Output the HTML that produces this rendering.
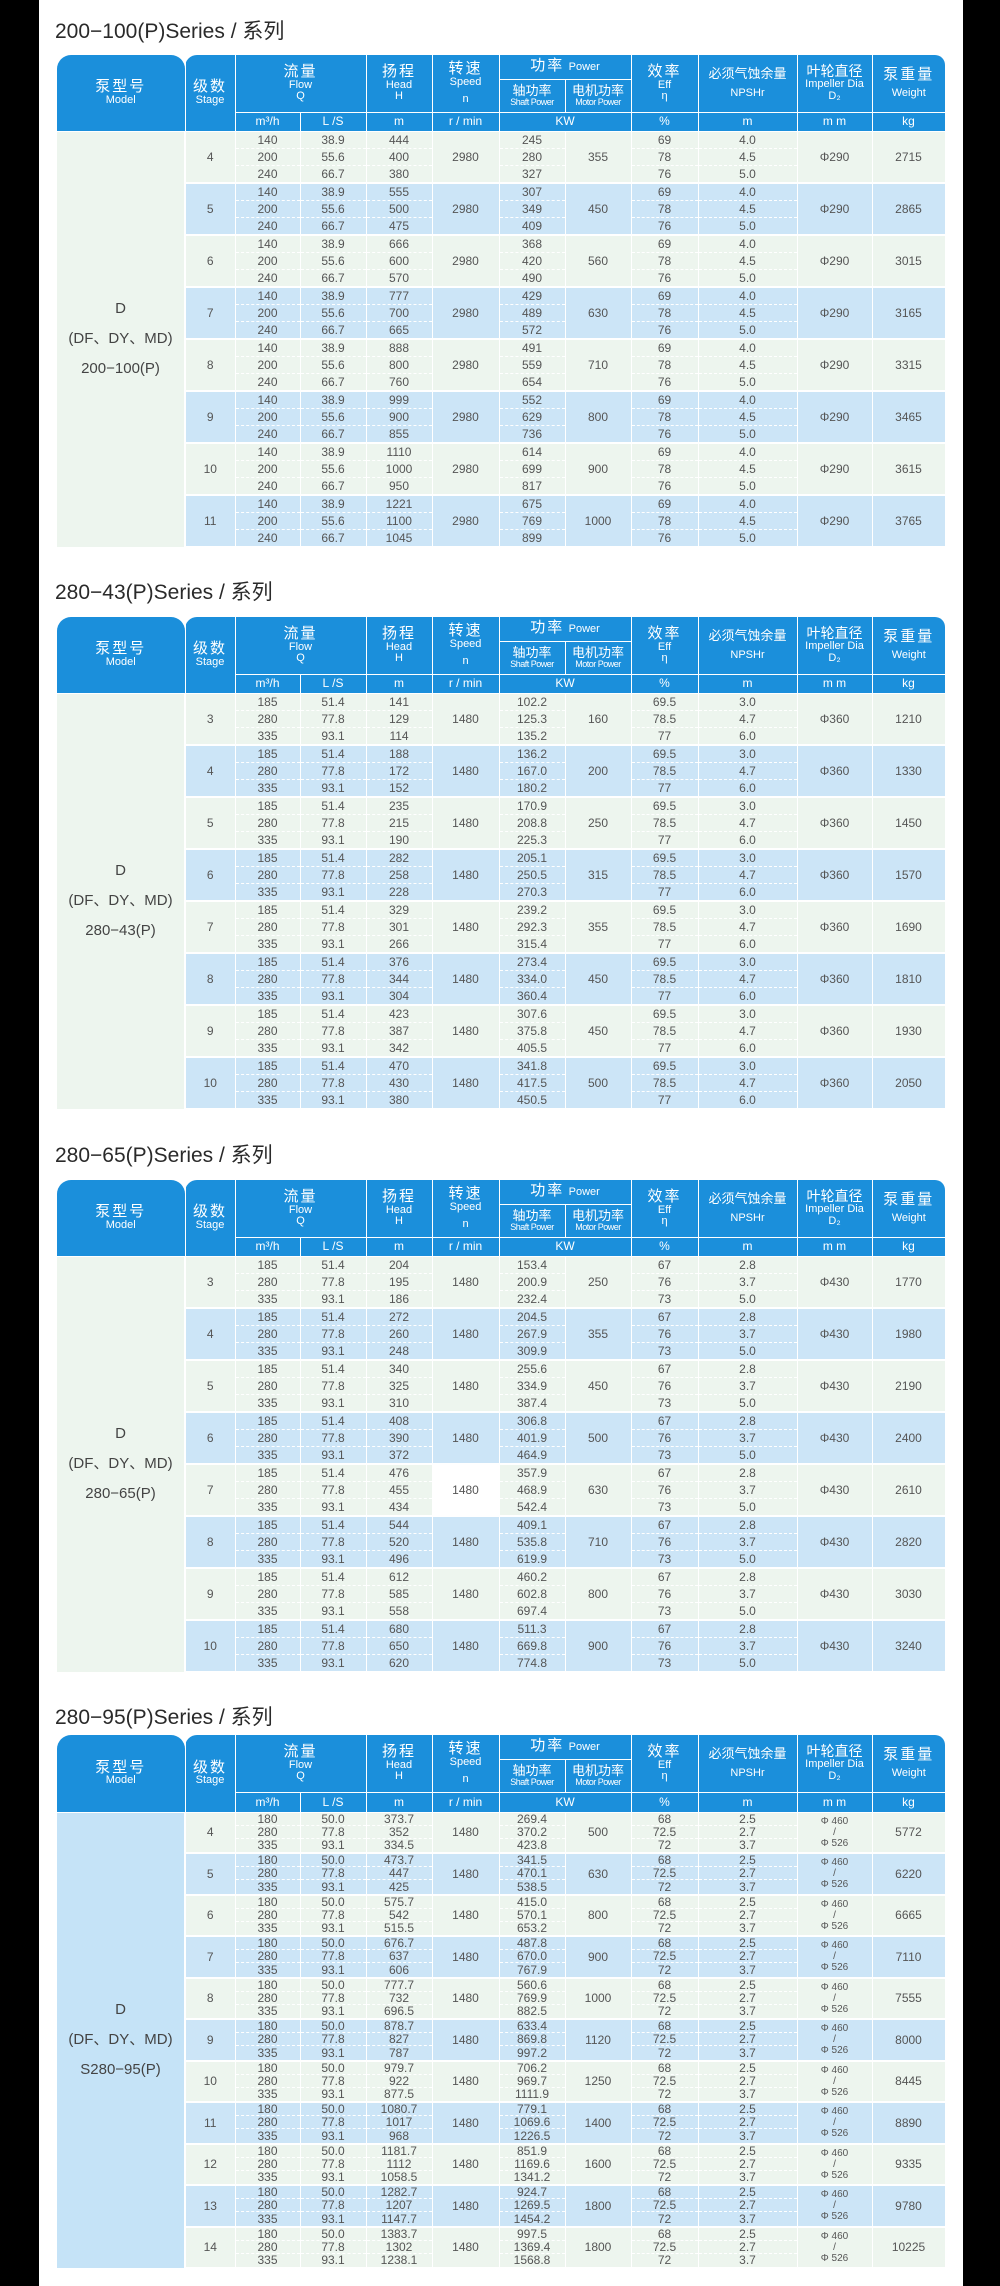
<!DOCTYPE html>
<html><head><meta charset="utf-8"><style>
*{margin:0;padding:0;box-sizing:border-box}
body{width:1000px;height:2286px;background:#000;position:relative;overflow:hidden;font-family:"Liberation Sans","Noto Sans CJK SC",sans-serif}
.bg{position:absolute;left:39px;top:0;width:924px;height:2286px;background:#fff}
.ti{position:absolute;left:55px;font-size:21px;color:#2a2a2a;line-height:24px;white-space:nowrap}
table{position:absolute;left:57px;width:888px;border-collapse:collapse;table-layout:fixed;color:#555;text-align:center}
th{background:#1b8fdb;color:#fff;font-weight:normal;border:1px solid #fff;line-height:1.05;padding:0;vertical-align:middle}
th .c{font-size:15px;letter-spacing:2px}
th .e{font-size:11px}
th.e{font-size:12px}
th .s{font-size:9px;letter-spacing:-0.5px}
th.tl{border-top-left-radius:14px;border-top-right-radius:14px;border-left:none;border-top:none}
th.tl2{border-top-left-radius:12px;border-top:none}
th.tr{border-top-right-radius:10px;border-right:none;border-top:none}
th.top{border-top:none}
td{font-size:12px;padding:0;border-right:1px solid #fff;border-bottom:1px dashed #fff;line-height:14px;vertical-align:middle}
td.r{border-bottom:2px solid #fff}
tr.z td{border-bottom:2px solid #fff}
td.m,.t4 td.m{background:#c5e3f7;font-size:15px;color:#444;line-height:30px;border-right:2px solid #fff;border-bottom:none}
.g td{background:#edf5ee}.b td{background:#cce5f7}
tbody tr{height:17px}tbody tr.z{height:18px}
.t4 td{font-size:12px;line-height:12px}
.t4 tbody tr{height:13px}.t4 tbody tr.z{height:15px}
.t4 td.ip{font-size:10px;line-height:11px}
td.w{background:#fff!important}
</style></head><body><div class="bg"></div>

<div class="ti" style="top:20px">200−100(P)Series / 系列</div>
<table style="top:55px">
<colgroup><col style="width:128px"><col style="width:50px"><col style="width:65px"><col style="width:66px"><col style="width:66px"><col style="width:67px"><col style="width:66px"><col style="width:66px"><col style="width:67px"><col style="width:99px"><col style="width:75px"><col style="width:73px"></colgroup>
<thead>
<tr style="height:24px"><th rowspan="3" class="tl"><div class="c">泵型号</div><div class="e">Model</div></th><th rowspan="3" class="tl2"><div class="c">级数</div><div class="e">Stage</div></th><th colspan="2" rowspan="2" class="top"><div class="c">流量</div><div class="e">Flow</div><div class="e">Q</div></th><th rowspan="2" class="top"><div class="c">扬程</div><div class="e">Head</div><div class="e">H</div></th><th rowspan="2" class="top"><div class="c">转速</div><div class="e">Speed</div><div class="e" style="margin-top:6px">n</div></th><th colspan="2" class="top"><span class="c">功率</span> <span class="e">Power</span></th><th rowspan="2" class="top"><div class="c">效率</div><div class="e">Eff</div><div class="e">η</div></th><th rowspan="2" class="top"><div class="c" style="letter-spacing:0;font-size:13px">必须气蚀余量</div><div class="e" style="margin-top:8px">NPSHr</div></th><th rowspan="2" class="top"><div class="c" style="letter-spacing:0;font-size:14px">叶轮直径</div><div class="e">Impeller Dia</div><div class="e">D₂</div></th><th rowspan="2" class="tr"><div class="c">泵重量</div><div class="e" style="margin-top:6px">Weight</div></th></tr>
<tr style="height:33px"><th><div style="font-size:13px">轴功率</div><div class="s">Shaft Power</div></th><th><div style="font-size:13px">电机功率</div><div class="s">Motor Power</div></th></tr>
<tr style="height:19px"><th class="e">m³/h</th><th class="e">L /S</th><th class="e">m</th><th class="e">r / min</th><th colspan="2" class="e">KW</th><th class="e">%</th><th class="e">m</th><th class="e">m m</th><th class="e">kg</th></tr>
</thead><tbody>
<tr class="g"><td rowspan="24" class="m">D<br>(DF、DY、MD)<br>200−100(P)</td><td rowspan="3" class="r">4</td><td>140</td><td>38.9</td><td>444</td><td rowspan="3" class="r">2980</td><td>245</td><td rowspan="3" class="r">355</td><td>69</td><td>4.0</td><td rowspan="3" class="r">Φ290</td><td rowspan="3" class="r">2715</td></tr>
<tr class="g"><td>200</td><td>55.6</td><td>400</td><td>280</td><td>78</td><td>4.5</td></tr>
<tr class="g z"><td>240</td><td>66.7</td><td>380</td><td>327</td><td>76</td><td>5.0</td></tr>
<tr class="b"><td rowspan="3" class="r">5</td><td>140</td><td>38.9</td><td>555</td><td rowspan="3" class="r">2980</td><td>307</td><td rowspan="3" class="r">450</td><td>69</td><td>4.0</td><td rowspan="3" class="r">Φ290</td><td rowspan="3" class="r">2865</td></tr>
<tr class="b"><td>200</td><td>55.6</td><td>500</td><td>349</td><td>78</td><td>4.5</td></tr>
<tr class="b z"><td>240</td><td>66.7</td><td>475</td><td>409</td><td>76</td><td>5.0</td></tr>
<tr class="g"><td rowspan="3" class="r">6</td><td>140</td><td>38.9</td><td>666</td><td rowspan="3" class="r">2980</td><td>368</td><td rowspan="3" class="r">560</td><td>69</td><td>4.0</td><td rowspan="3" class="r">Φ290</td><td rowspan="3" class="r">3015</td></tr>
<tr class="g"><td>200</td><td>55.6</td><td>600</td><td>420</td><td>78</td><td>4.5</td></tr>
<tr class="g z"><td>240</td><td>66.7</td><td>570</td><td>490</td><td>76</td><td>5.0</td></tr>
<tr class="b"><td rowspan="3" class="r">7</td><td>140</td><td>38.9</td><td>777</td><td rowspan="3" class="r">2980</td><td>429</td><td rowspan="3" class="r">630</td><td>69</td><td>4.0</td><td rowspan="3" class="r">Φ290</td><td rowspan="3" class="r">3165</td></tr>
<tr class="b"><td>200</td><td>55.6</td><td>700</td><td>489</td><td>78</td><td>4.5</td></tr>
<tr class="b z"><td>240</td><td>66.7</td><td>665</td><td>572</td><td>76</td><td>5.0</td></tr>
<tr class="g"><td rowspan="3" class="r">8</td><td>140</td><td>38.9</td><td>888</td><td rowspan="3" class="r">2980</td><td>491</td><td rowspan="3" class="r">710</td><td>69</td><td>4.0</td><td rowspan="3" class="r">Φ290</td><td rowspan="3" class="r">3315</td></tr>
<tr class="g"><td>200</td><td>55.6</td><td>800</td><td>559</td><td>78</td><td>4.5</td></tr>
<tr class="g z"><td>240</td><td>66.7</td><td>760</td><td>654</td><td>76</td><td>5.0</td></tr>
<tr class="b"><td rowspan="3" class="r">9</td><td>140</td><td>38.9</td><td>999</td><td rowspan="3" class="r">2980</td><td>552</td><td rowspan="3" class="r">800</td><td>69</td><td>4.0</td><td rowspan="3" class="r">Φ290</td><td rowspan="3" class="r">3465</td></tr>
<tr class="b"><td>200</td><td>55.6</td><td>900</td><td>629</td><td>78</td><td>4.5</td></tr>
<tr class="b z"><td>240</td><td>66.7</td><td>855</td><td>736</td><td>76</td><td>5.0</td></tr>
<tr class="g"><td rowspan="3" class="r">10</td><td>140</td><td>38.9</td><td>1110</td><td rowspan="3" class="r">2980</td><td>614</td><td rowspan="3" class="r">900</td><td>69</td><td>4.0</td><td rowspan="3" class="r">Φ290</td><td rowspan="3" class="r">3615</td></tr>
<tr class="g"><td>200</td><td>55.6</td><td>1000</td><td>699</td><td>78</td><td>4.5</td></tr>
<tr class="g z"><td>240</td><td>66.7</td><td>950</td><td>817</td><td>76</td><td>5.0</td></tr>
<tr class="b"><td rowspan="3" class="r">11</td><td>140</td><td>38.9</td><td>1221</td><td rowspan="3" class="r">2980</td><td>675</td><td rowspan="3" class="r">1000</td><td>69</td><td>4.0</td><td rowspan="3" class="r">Φ290</td><td rowspan="3" class="r">3765</td></tr>
<tr class="b"><td>200</td><td>55.6</td><td>1100</td><td>769</td><td>78</td><td>4.5</td></tr>
<tr class="b z"><td>240</td><td>66.7</td><td>1045</td><td>899</td><td>76</td><td>5.0</td></tr>
</tbody></table>

<div class="ti" style="top:581px">280−43(P)Series / 系列</div>
<table style="top:617px">
<colgroup><col style="width:128px"><col style="width:50px"><col style="width:65px"><col style="width:66px"><col style="width:66px"><col style="width:67px"><col style="width:66px"><col style="width:66px"><col style="width:67px"><col style="width:99px"><col style="width:75px"><col style="width:73px"></colgroup>
<thead>
<tr style="height:24px"><th rowspan="3" class="tl"><div class="c">泵型号</div><div class="e">Model</div></th><th rowspan="3" class="tl2"><div class="c">级数</div><div class="e">Stage</div></th><th colspan="2" rowspan="2" class="top"><div class="c">流量</div><div class="e">Flow</div><div class="e">Q</div></th><th rowspan="2" class="top"><div class="c">扬程</div><div class="e">Head</div><div class="e">H</div></th><th rowspan="2" class="top"><div class="c">转速</div><div class="e">Speed</div><div class="e" style="margin-top:6px">n</div></th><th colspan="2" class="top"><span class="c">功率</span> <span class="e">Power</span></th><th rowspan="2" class="top"><div class="c">效率</div><div class="e">Eff</div><div class="e">η</div></th><th rowspan="2" class="top"><div class="c" style="letter-spacing:0;font-size:13px">必须气蚀余量</div><div class="e" style="margin-top:8px">NPSHr</div></th><th rowspan="2" class="top"><div class="c" style="letter-spacing:0;font-size:14px">叶轮直径</div><div class="e">Impeller Dia</div><div class="e">D₂</div></th><th rowspan="2" class="tr"><div class="c">泵重量</div><div class="e" style="margin-top:6px">Weight</div></th></tr>
<tr style="height:33px"><th><div style="font-size:13px">轴功率</div><div class="s">Shaft Power</div></th><th><div style="font-size:13px">电机功率</div><div class="s">Motor Power</div></th></tr>
<tr style="height:19px"><th class="e">m³/h</th><th class="e">L /S</th><th class="e">m</th><th class="e">r / min</th><th colspan="2" class="e">KW</th><th class="e">%</th><th class="e">m</th><th class="e">m m</th><th class="e">kg</th></tr>
</thead><tbody>
<tr class="g"><td rowspan="24" class="m">D<br>(DF、DY、MD)<br>280−43(P)</td><td rowspan="3" class="r">3</td><td>185</td><td>51.4</td><td>141</td><td rowspan="3" class="r">1480</td><td>102.2</td><td rowspan="3" class="r">160</td><td>69.5</td><td>3.0</td><td rowspan="3" class="r">Φ360</td><td rowspan="3" class="r">1210</td></tr>
<tr class="g"><td>280</td><td>77.8</td><td>129</td><td>125.3</td><td>78.5</td><td>4.7</td></tr>
<tr class="g z"><td>335</td><td>93.1</td><td>114</td><td>135.2</td><td>77</td><td>6.0</td></tr>
<tr class="b"><td rowspan="3" class="r">4</td><td>185</td><td>51.4</td><td>188</td><td rowspan="3" class="r">1480</td><td>136.2</td><td rowspan="3" class="r">200</td><td>69.5</td><td>3.0</td><td rowspan="3" class="r">Φ360</td><td rowspan="3" class="r">1330</td></tr>
<tr class="b"><td>280</td><td>77.8</td><td>172</td><td>167.0</td><td>78.5</td><td>4.7</td></tr>
<tr class="b z"><td>335</td><td>93.1</td><td>152</td><td>180.2</td><td>77</td><td>6.0</td></tr>
<tr class="g"><td rowspan="3" class="r">5</td><td>185</td><td>51.4</td><td>235</td><td rowspan="3" class="r">1480</td><td>170.9</td><td rowspan="3" class="r">250</td><td>69.5</td><td>3.0</td><td rowspan="3" class="r">Φ360</td><td rowspan="3" class="r">1450</td></tr>
<tr class="g"><td>280</td><td>77.8</td><td>215</td><td>208.8</td><td>78.5</td><td>4.7</td></tr>
<tr class="g z"><td>335</td><td>93.1</td><td>190</td><td>225.3</td><td>77</td><td>6.0</td></tr>
<tr class="b"><td rowspan="3" class="r">6</td><td>185</td><td>51.4</td><td>282</td><td rowspan="3" class="r">1480</td><td>205.1</td><td rowspan="3" class="r">315</td><td>69.5</td><td>3.0</td><td rowspan="3" class="r">Φ360</td><td rowspan="3" class="r">1570</td></tr>
<tr class="b"><td>280</td><td>77.8</td><td>258</td><td>250.5</td><td>78.5</td><td>4.7</td></tr>
<tr class="b z"><td>335</td><td>93.1</td><td>228</td><td>270.3</td><td>77</td><td>6.0</td></tr>
<tr class="g"><td rowspan="3" class="r">7</td><td>185</td><td>51.4</td><td>329</td><td rowspan="3" class="r">1480</td><td>239.2</td><td rowspan="3" class="r">355</td><td>69.5</td><td>3.0</td><td rowspan="3" class="r">Φ360</td><td rowspan="3" class="r">1690</td></tr>
<tr class="g"><td>280</td><td>77.8</td><td>301</td><td>292.3</td><td>78.5</td><td>4.7</td></tr>
<tr class="g z"><td>335</td><td>93.1</td><td>266</td><td>315.4</td><td>77</td><td>6.0</td></tr>
<tr class="b"><td rowspan="3" class="r">8</td><td>185</td><td>51.4</td><td>376</td><td rowspan="3" class="r">1480</td><td>273.4</td><td rowspan="3" class="r">450</td><td>69.5</td><td>3.0</td><td rowspan="3" class="r">Φ360</td><td rowspan="3" class="r">1810</td></tr>
<tr class="b"><td>280</td><td>77.8</td><td>344</td><td>334.0</td><td>78.5</td><td>4.7</td></tr>
<tr class="b z"><td>335</td><td>93.1</td><td>304</td><td>360.4</td><td>77</td><td>6.0</td></tr>
<tr class="g"><td rowspan="3" class="r">9</td><td>185</td><td>51.4</td><td>423</td><td rowspan="3" class="r">1480</td><td>307.6</td><td rowspan="3" class="r">450</td><td>69.5</td><td>3.0</td><td rowspan="3" class="r">Φ360</td><td rowspan="3" class="r">1930</td></tr>
<tr class="g"><td>280</td><td>77.8</td><td>387</td><td>375.8</td><td>78.5</td><td>4.7</td></tr>
<tr class="g z"><td>335</td><td>93.1</td><td>342</td><td>405.5</td><td>77</td><td>6.0</td></tr>
<tr class="b"><td rowspan="3" class="r">10</td><td>185</td><td>51.4</td><td>470</td><td rowspan="3" class="r">1480</td><td>341.8</td><td rowspan="3" class="r">500</td><td>69.5</td><td>3.0</td><td rowspan="3" class="r">Φ360</td><td rowspan="3" class="r">2050</td></tr>
<tr class="b"><td>280</td><td>77.8</td><td>430</td><td>417.5</td><td>78.5</td><td>4.7</td></tr>
<tr class="b z"><td>335</td><td>93.1</td><td>380</td><td>450.5</td><td>77</td><td>6.0</td></tr>
</tbody></table>

<div class="ti" style="top:1144px">280−65(P)Series / 系列</div>
<table style="top:1180px">
<colgroup><col style="width:128px"><col style="width:50px"><col style="width:65px"><col style="width:66px"><col style="width:66px"><col style="width:67px"><col style="width:66px"><col style="width:66px"><col style="width:67px"><col style="width:99px"><col style="width:75px"><col style="width:73px"></colgroup>
<thead>
<tr style="height:24px"><th rowspan="3" class="tl"><div class="c">泵型号</div><div class="e">Model</div></th><th rowspan="3" class="tl2"><div class="c">级数</div><div class="e">Stage</div></th><th colspan="2" rowspan="2" class="top"><div class="c">流量</div><div class="e">Flow</div><div class="e">Q</div></th><th rowspan="2" class="top"><div class="c">扬程</div><div class="e">Head</div><div class="e">H</div></th><th rowspan="2" class="top"><div class="c">转速</div><div class="e">Speed</div><div class="e" style="margin-top:6px">n</div></th><th colspan="2" class="top"><span class="c">功率</span> <span class="e">Power</span></th><th rowspan="2" class="top"><div class="c">效率</div><div class="e">Eff</div><div class="e">η</div></th><th rowspan="2" class="top"><div class="c" style="letter-spacing:0;font-size:13px">必须气蚀余量</div><div class="e" style="margin-top:8px">NPSHr</div></th><th rowspan="2" class="top"><div class="c" style="letter-spacing:0;font-size:14px">叶轮直径</div><div class="e">Impeller Dia</div><div class="e">D₂</div></th><th rowspan="2" class="tr"><div class="c">泵重量</div><div class="e" style="margin-top:6px">Weight</div></th></tr>
<tr style="height:33px"><th><div style="font-size:13px">轴功率</div><div class="s">Shaft Power</div></th><th><div style="font-size:13px">电机功率</div><div class="s">Motor Power</div></th></tr>
<tr style="height:19px"><th class="e">m³/h</th><th class="e">L /S</th><th class="e">m</th><th class="e">r / min</th><th colspan="2" class="e">KW</th><th class="e">%</th><th class="e">m</th><th class="e">m m</th><th class="e">kg</th></tr>
</thead><tbody>
<tr class="g"><td rowspan="24" class="m">D<br>(DF、DY、MD)<br>280−65(P)</td><td rowspan="3" class="r">3</td><td>185</td><td>51.4</td><td>204</td><td rowspan="3" class="r">1480</td><td>153.4</td><td rowspan="3" class="r">250</td><td>67</td><td>2.8</td><td rowspan="3" class="r">Φ430</td><td rowspan="3" class="r">1770</td></tr>
<tr class="g"><td>280</td><td>77.8</td><td>195</td><td>200.9</td><td>76</td><td>3.7</td></tr>
<tr class="g z"><td>335</td><td>93.1</td><td>186</td><td>232.4</td><td>73</td><td>5.0</td></tr>
<tr class="b"><td rowspan="3" class="r">4</td><td>185</td><td>51.4</td><td>272</td><td rowspan="3" class="r">1480</td><td>204.5</td><td rowspan="3" class="r">355</td><td>67</td><td>2.8</td><td rowspan="3" class="r">Φ430</td><td rowspan="3" class="r">1980</td></tr>
<tr class="b"><td>280</td><td>77.8</td><td>260</td><td>267.9</td><td>76</td><td>3.7</td></tr>
<tr class="b z"><td>335</td><td>93.1</td><td>248</td><td>309.9</td><td>73</td><td>5.0</td></tr>
<tr class="g"><td rowspan="3" class="r">5</td><td>185</td><td>51.4</td><td>340</td><td rowspan="3" class="r">1480</td><td>255.6</td><td rowspan="3" class="r">450</td><td>67</td><td>2.8</td><td rowspan="3" class="r">Φ430</td><td rowspan="3" class="r">2190</td></tr>
<tr class="g"><td>280</td><td>77.8</td><td>325</td><td>334.9</td><td>76</td><td>3.7</td></tr>
<tr class="g z"><td>335</td><td>93.1</td><td>310</td><td>387.4</td><td>73</td><td>5.0</td></tr>
<tr class="b"><td rowspan="3" class="r">6</td><td>185</td><td>51.4</td><td>408</td><td rowspan="3" class="r">1480</td><td>306.8</td><td rowspan="3" class="r">500</td><td>67</td><td>2.8</td><td rowspan="3" class="r">Φ430</td><td rowspan="3" class="r">2400</td></tr>
<tr class="b"><td>280</td><td>77.8</td><td>390</td><td>401.9</td><td>76</td><td>3.7</td></tr>
<tr class="b z"><td>335</td><td>93.1</td><td>372</td><td>464.9</td><td>73</td><td>5.0</td></tr>
<tr class="g"><td rowspan="3" class="r">7</td><td>185</td><td>51.4</td><td>476</td><td rowspan="3" class="r w">1480</td><td>357.9</td><td rowspan="3" class="r">630</td><td>67</td><td>2.8</td><td rowspan="3" class="r">Φ430</td><td rowspan="3" class="r">2610</td></tr>
<tr class="g"><td>280</td><td>77.8</td><td>455</td><td>468.9</td><td>76</td><td>3.7</td></tr>
<tr class="g z"><td>335</td><td>93.1</td><td>434</td><td>542.4</td><td>73</td><td>5.0</td></tr>
<tr class="b"><td rowspan="3" class="r">8</td><td>185</td><td>51.4</td><td>544</td><td rowspan="3" class="r">1480</td><td>409.1</td><td rowspan="3" class="r">710</td><td>67</td><td>2.8</td><td rowspan="3" class="r">Φ430</td><td rowspan="3" class="r">2820</td></tr>
<tr class="b"><td>280</td><td>77.8</td><td>520</td><td>535.8</td><td>76</td><td>3.7</td></tr>
<tr class="b z"><td>335</td><td>93.1</td><td>496</td><td>619.9</td><td>73</td><td>5.0</td></tr>
<tr class="g"><td rowspan="3" class="r">9</td><td>185</td><td>51.4</td><td>612</td><td rowspan="3" class="r">1480</td><td>460.2</td><td rowspan="3" class="r">800</td><td>67</td><td>2.8</td><td rowspan="3" class="r">Φ430</td><td rowspan="3" class="r">3030</td></tr>
<tr class="g"><td>280</td><td>77.8</td><td>585</td><td>602.8</td><td>76</td><td>3.7</td></tr>
<tr class="g z"><td>335</td><td>93.1</td><td>558</td><td>697.4</td><td>73</td><td>5.0</td></tr>
<tr class="b"><td rowspan="3" class="r">10</td><td>185</td><td>51.4</td><td>680</td><td rowspan="3" class="r">1480</td><td>511.3</td><td rowspan="3" class="r">900</td><td>67</td><td>2.8</td><td rowspan="3" class="r">Φ430</td><td rowspan="3" class="r">3240</td></tr>
<tr class="b"><td>280</td><td>77.8</td><td>650</td><td>669.8</td><td>76</td><td>3.7</td></tr>
<tr class="b z"><td>335</td><td>93.1</td><td>620</td><td>774.8</td><td>73</td><td>5.0</td></tr>
</tbody></table>

<div class="ti" style="top:1706px">280−95(P)Series / 系列</div>
<table class="t4" style="top:1735px">
<colgroup><col style="width:128px"><col style="width:50px"><col style="width:65px"><col style="width:66px"><col style="width:66px"><col style="width:67px"><col style="width:66px"><col style="width:66px"><col style="width:67px"><col style="width:99px"><col style="width:75px"><col style="width:73px"></colgroup>
<thead>
<tr style="height:24px"><th rowspan="3" class="tl"><div class="c">泵型号</div><div class="e">Model</div></th><th rowspan="3" class="tl2"><div class="c">级数</div><div class="e">Stage</div></th><th colspan="2" rowspan="2" class="top"><div class="c">流量</div><div class="e">Flow</div><div class="e">Q</div></th><th rowspan="2" class="top"><div class="c">扬程</div><div class="e">Head</div><div class="e">H</div></th><th rowspan="2" class="top"><div class="c">转速</div><div class="e">Speed</div><div class="e" style="margin-top:6px">n</div></th><th colspan="2" class="top"><span class="c">功率</span> <span class="e">Power</span></th><th rowspan="2" class="top"><div class="c">效率</div><div class="e">Eff</div><div class="e">η</div></th><th rowspan="2" class="top"><div class="c" style="letter-spacing:0;font-size:13px">必须气蚀余量</div><div class="e" style="margin-top:8px">NPSHr</div></th><th rowspan="2" class="top"><div class="c" style="letter-spacing:0;font-size:14px">叶轮直径</div><div class="e">Impeller Dia</div><div class="e">D₂</div></th><th rowspan="2" class="tr"><div class="c">泵重量</div><div class="e" style="margin-top:6px">Weight</div></th></tr>
<tr style="height:33px"><th><div style="font-size:13px">轴功率</div><div class="s">Shaft Power</div></th><th><div style="font-size:13px">电机功率</div><div class="s">Motor Power</div></th></tr>
<tr style="height:20px"><th class="e">m³/h</th><th class="e">L /S</th><th class="e">m</th><th class="e">r / min</th><th colspan="2" class="e">KW</th><th class="e">%</th><th class="e">m</th><th class="e">m m</th><th class="e">kg</th></tr>
</thead><tbody>
<tr class="g"><td rowspan="33" class="m">D<br>(DF、DY、MD)<br>S280−95(P)</td><td rowspan="3" class="r">4</td><td>180</td><td>50.0</td><td>373.7</td><td rowspan="3" class="r">1480</td><td>269.4</td><td rowspan="3" class="r">500</td><td>68</td><td>2.5</td><td rowspan="3" class="r ip">Φ 460<br>/<br>Φ 526</td><td rowspan="3" class="r">5772</td></tr>
<tr class="g"><td>280</td><td>77.8</td><td>352</td><td>370.2</td><td>72.5</td><td>2.7</td></tr>
<tr class="g z"><td>335</td><td>93.1</td><td>334.5</td><td>423.8</td><td>72</td><td>3.7</td></tr>
<tr class="b"><td rowspan="3" class="r">5</td><td>180</td><td>50.0</td><td>473.7</td><td rowspan="3" class="r">1480</td><td>341.5</td><td rowspan="3" class="r">630</td><td>68</td><td>2.5</td><td rowspan="3" class="r ip">Φ 460<br>/<br>Φ 526</td><td rowspan="3" class="r">6220</td></tr>
<tr class="b"><td>280</td><td>77.8</td><td>447</td><td>470.1</td><td>72.5</td><td>2.7</td></tr>
<tr class="b z"><td>335</td><td>93.1</td><td>425</td><td>538.5</td><td>72</td><td>3.7</td></tr>
<tr class="g"><td rowspan="3" class="r">6</td><td>180</td><td>50.0</td><td>575.7</td><td rowspan="3" class="r">1480</td><td>415.0</td><td rowspan="3" class="r">800</td><td>68</td><td>2.5</td><td rowspan="3" class="r ip">Φ 460<br>/<br>Φ 526</td><td rowspan="3" class="r">6665</td></tr>
<tr class="g"><td>280</td><td>77.8</td><td>542</td><td>570.1</td><td>72.5</td><td>2.7</td></tr>
<tr class="g z"><td>335</td><td>93.1</td><td>515.5</td><td>653.2</td><td>72</td><td>3.7</td></tr>
<tr class="b"><td rowspan="3" class="r">7</td><td>180</td><td>50.0</td><td>676.7</td><td rowspan="3" class="r">1480</td><td>487.8</td><td rowspan="3" class="r">900</td><td>68</td><td>2.5</td><td rowspan="3" class="r ip">Φ 460<br>/<br>Φ 526</td><td rowspan="3" class="r">7110</td></tr>
<tr class="b"><td>280</td><td>77.8</td><td>637</td><td>670.0</td><td>72.5</td><td>2.7</td></tr>
<tr class="b z"><td>335</td><td>93.1</td><td>606</td><td>767.9</td><td>72</td><td>3.7</td></tr>
<tr class="g"><td rowspan="3" class="r">8</td><td>180</td><td>50.0</td><td>777.7</td><td rowspan="3" class="r">1480</td><td>560.6</td><td rowspan="3" class="r">1000</td><td>68</td><td>2.5</td><td rowspan="3" class="r ip">Φ 460<br>/<br>Φ 526</td><td rowspan="3" class="r">7555</td></tr>
<tr class="g"><td>280</td><td>77.8</td><td>732</td><td>769.9</td><td>72.5</td><td>2.7</td></tr>
<tr class="g z"><td>335</td><td>93.1</td><td>696.5</td><td>882.5</td><td>72</td><td>3.7</td></tr>
<tr class="b"><td rowspan="3" class="r">9</td><td>180</td><td>50.0</td><td>878.7</td><td rowspan="3" class="r">1480</td><td>633.4</td><td rowspan="3" class="r">1120</td><td>68</td><td>2.5</td><td rowspan="3" class="r ip">Φ 460<br>/<br>Φ 526</td><td rowspan="3" class="r">8000</td></tr>
<tr class="b"><td>280</td><td>77.8</td><td>827</td><td>869.8</td><td>72.5</td><td>2.7</td></tr>
<tr class="b z"><td>335</td><td>93.1</td><td>787</td><td>997.2</td><td>72</td><td>3.7</td></tr>
<tr class="g"><td rowspan="3" class="r">10</td><td>180</td><td>50.0</td><td>979.7</td><td rowspan="3" class="r">1480</td><td>706.2</td><td rowspan="3" class="r">1250</td><td>68</td><td>2.5</td><td rowspan="3" class="r ip">Φ 460<br>/<br>Φ 526</td><td rowspan="3" class="r">8445</td></tr>
<tr class="g"><td>280</td><td>77.8</td><td>922</td><td>969.7</td><td>72.5</td><td>2.7</td></tr>
<tr class="g z"><td>335</td><td>93.1</td><td>877.5</td><td>1111.9</td><td>72</td><td>3.7</td></tr>
<tr class="b"><td rowspan="3" class="r">11</td><td>180</td><td>50.0</td><td>1080.7</td><td rowspan="3" class="r">1480</td><td>779.1</td><td rowspan="3" class="r">1400</td><td>68</td><td>2.5</td><td rowspan="3" class="r ip">Φ 460<br>/<br>Φ 526</td><td rowspan="3" class="r">8890</td></tr>
<tr class="b"><td>280</td><td>77.8</td><td>1017</td><td>1069.6</td><td>72.5</td><td>2.7</td></tr>
<tr class="b z"><td>335</td><td>93.1</td><td>968</td><td>1226.5</td><td>72</td><td>3.7</td></tr>
<tr class="g"><td rowspan="3" class="r">12</td><td>180</td><td>50.0</td><td>1181.7</td><td rowspan="3" class="r">1480</td><td>851.9</td><td rowspan="3" class="r">1600</td><td>68</td><td>2.5</td><td rowspan="3" class="r ip">Φ 460<br>/<br>Φ 526</td><td rowspan="3" class="r">9335</td></tr>
<tr class="g"><td>280</td><td>77.8</td><td>1112</td><td>1169.6</td><td>72.5</td><td>2.7</td></tr>
<tr class="g z"><td>335</td><td>93.1</td><td>1058.5</td><td>1341.2</td><td>72</td><td>3.7</td></tr>
<tr class="b"><td rowspan="3" class="r">13</td><td>180</td><td>50.0</td><td>1282.7</td><td rowspan="3" class="r">1480</td><td>924.7</td><td rowspan="3" class="r">1800</td><td>68</td><td>2.5</td><td rowspan="3" class="r ip">Φ 460<br>/<br>Φ 526</td><td rowspan="3" class="r">9780</td></tr>
<tr class="b"><td>280</td><td>77.8</td><td>1207</td><td>1269.5</td><td>72.5</td><td>2.7</td></tr>
<tr class="b z"><td>335</td><td>93.1</td><td>1147.7</td><td>1454.2</td><td>72</td><td>3.7</td></tr>
<tr class="g"><td rowspan="3" class="r">14</td><td>180</td><td>50.0</td><td>1383.7</td><td rowspan="3" class="r">1480</td><td>997.5</td><td rowspan="3" class="r">1800</td><td>68</td><td>2.5</td><td rowspan="3" class="r ip">Φ 460<br>/<br>Φ 526</td><td rowspan="3" class="r">10225</td></tr>
<tr class="g"><td>280</td><td>77.8</td><td>1302</td><td>1369.4</td><td>72.5</td><td>2.7</td></tr>
<tr class="g z"><td>335</td><td>93.1</td><td>1238.1</td><td>1568.8</td><td>72</td><td>3.7</td></tr>
</tbody></table>
</body></html>
